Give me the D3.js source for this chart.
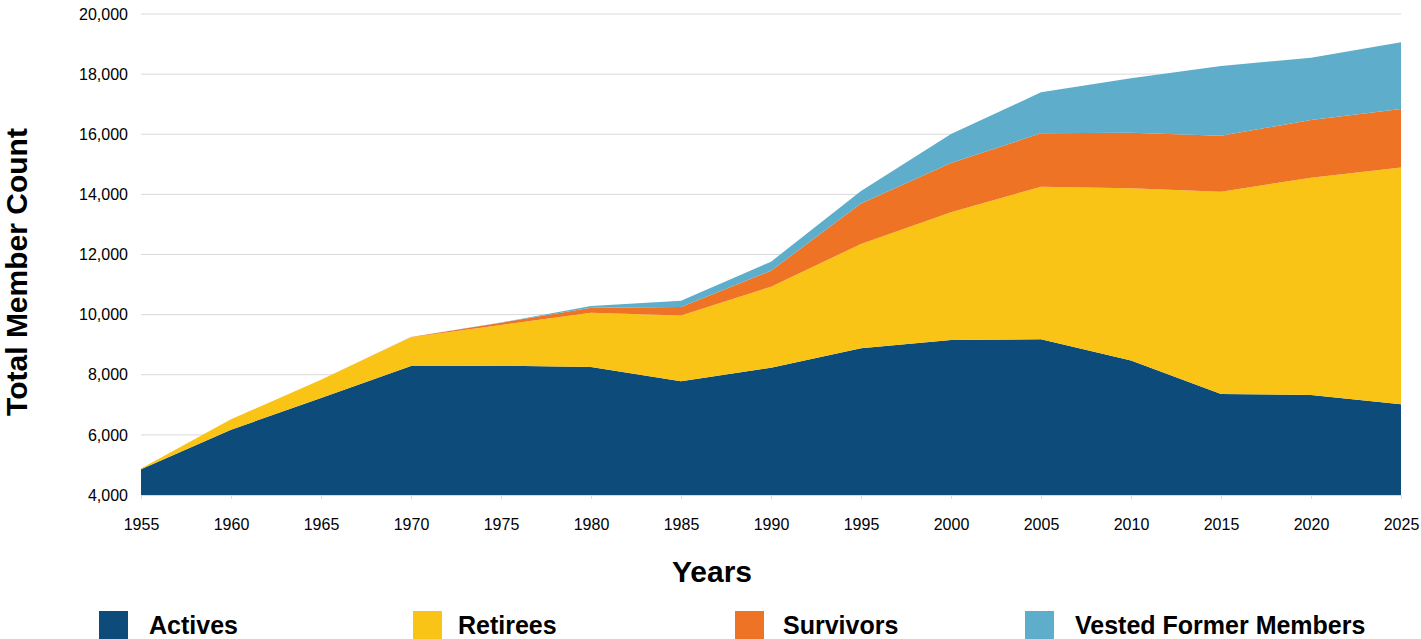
<!DOCTYPE html>
<html>
<head>
<meta charset="utf-8">
<script src="https://cdn.jsdelivr.net/npm/d3@7"></script>
<style>
  body { margin: 0; background: #fff; }
  svg text { font-family: "Liberation Sans", Arial, sans-serif; }
</style>
</head>
<body>
<svg id="chart" width="1421" height="639"></svg>
<script>
// data
var years = [1955, 1960, 1965, 1970, 1975, 1980, 1985, 1990, 1995, 2000, 2005, 2010, 2015, 2020, 2025];
var actives   = [4860, 6170, 7230, 8290, 8300, 8260, 7780, 8235, 8880, 9155, 9180, 8470, 7360, 7330, 7020];
var retirees  = [20, 350, 600, 955, 1355, 1800, 2190, 2695, 3470, 4250, 5075, 5730, 6730, 7225, 7870];
var survivors = [0, 0, 0, 10, 75, 165, 280, 530, 1350, 1640, 1775, 1850, 1860, 1920, 1950];
var vested    = [0, 0, 0, 0, 10, 60, 210, 300, 410, 965, 1365, 1810, 2320, 2070, 2220];

var seriesNames = ["Actives", "Retirees", "Survivors", "Vested Former Members"];
var colors = ["#0d4c7a", "#f9c416", "#ee7325", "#5eaecb"];
var yTicks = [4000, 6000, 8000, 10000, 12000, 14000, 16000, 18000, 20000];
var xTicks = years;

var svg = d3.select("#chart");
var margin = {left: 141, right: 20, top: 14, bottom: 144};
var width = 1401 - margin.left,
    height = 495 - margin.top;

var x = d3.scaleLinear().domain([1955, 2025]).range([margin.left, margin.left + width]);
var y = d3.scaleLinear().domain([4000, 20000]).range([margin.top + height, margin.top]);

var rows = years.map(function(yr, i) {
    return {year: yr, "Actives": actives[i], "Retirees": retirees[i],
            "Survivors": survivors[i], "Vested Former Members": vested[i]};
});

var stacked = d3.stack().keys(seriesNames)(rows);

// gridlines
svg.append("g")
    .selectAll("line")
    .data(yTicks)
    .enter().append("line")
    .attr("x1", margin.left)
    .attr("x2", margin.left + width)
    .attr("y1", function(d) { return y(d); })
    .attr("y2", function(d) { return y(d); })
    .attr("stroke", "#d9d9d9")
    .attr("stroke-width", 1);

// axis starts at 4,000 so the bottom of the stack is cut there
var area = d3.area()
    .x(function(d) { return x(d.data.year); })
    .y0(function(d) { return y(Math.max(d[0], 4000)); })
    .y1(function(d) { return y(Math.max(d[1], 4000)); });

svg.append("g")
    .selectAll("path")
    .data(stacked)
    .enter().append("path")
    .attr("d", area)
    .attr("fill", function(d, i) { return colors[i]; });

// x axis
var xAxis = svg.append("g")
    .attr("transform", "translate(0," + (margin.top + height) + ")")
    .call(d3.axisBottom(x).tickValues(xTicks).tickFormat(d3.format("d")).tickSize(4).tickPadding(20));
xAxis.select(".domain").attr("stroke", "#d9d9d9");
xAxis.selectAll(".tick line").attr("stroke", "#d9d9d9");
xAxis.selectAll("text").attr("font-size", 16).attr("fill", "#000");

// y axis
var yAxis = svg.append("g")
    .attr("transform", "translate(" + margin.left + ",0)")
    .call(d3.axisLeft(y).tickValues(yTicks).tickFormat(d3.format(",")).tickSize(0).tickPadding(13));
yAxis.select(".domain").remove();
yAxis.selectAll("text").attr("font-size", 16).attr("fill", "#000");

// axis titles
svg.append("text")
    .attr("transform", "translate(27,272) rotate(-90)")
    .attr("text-anchor", "middle")
    .attr("font-size", 30)
    .attr("font-weight", "bold")
    .text("Total Member Count");

svg.append("text")
    .attr("x", 712)
    .attr("y", 582)
    .attr("text-anchor", "middle")
    .attr("font-size", 30)
    .attr("font-weight", "bold")
    .text("Years");

// legend
var legendX = [99, 413, 735, 1025];
var textX = [50, 45, 48, 50];
var legend = svg.append("g")
    .selectAll("g")
    .data(seriesNames)
    .enter().append("g")
    .attr("transform", function(d, i) { return "translate(" + legendX[i] + ",611)"; });

legend.append("rect")
    .attr("width", 29)
    .attr("height", 28)
    .attr("fill", function(d, i) { return colors[i]; });

legend.append("text")
    .attr("x", function(d, i) { return textX[i]; })
    .attr("y", 23)
    .attr("font-size", 25)
    .attr("font-weight", "bold")
    .text(function(d) { return d; });
</script>
</body>
</html>
